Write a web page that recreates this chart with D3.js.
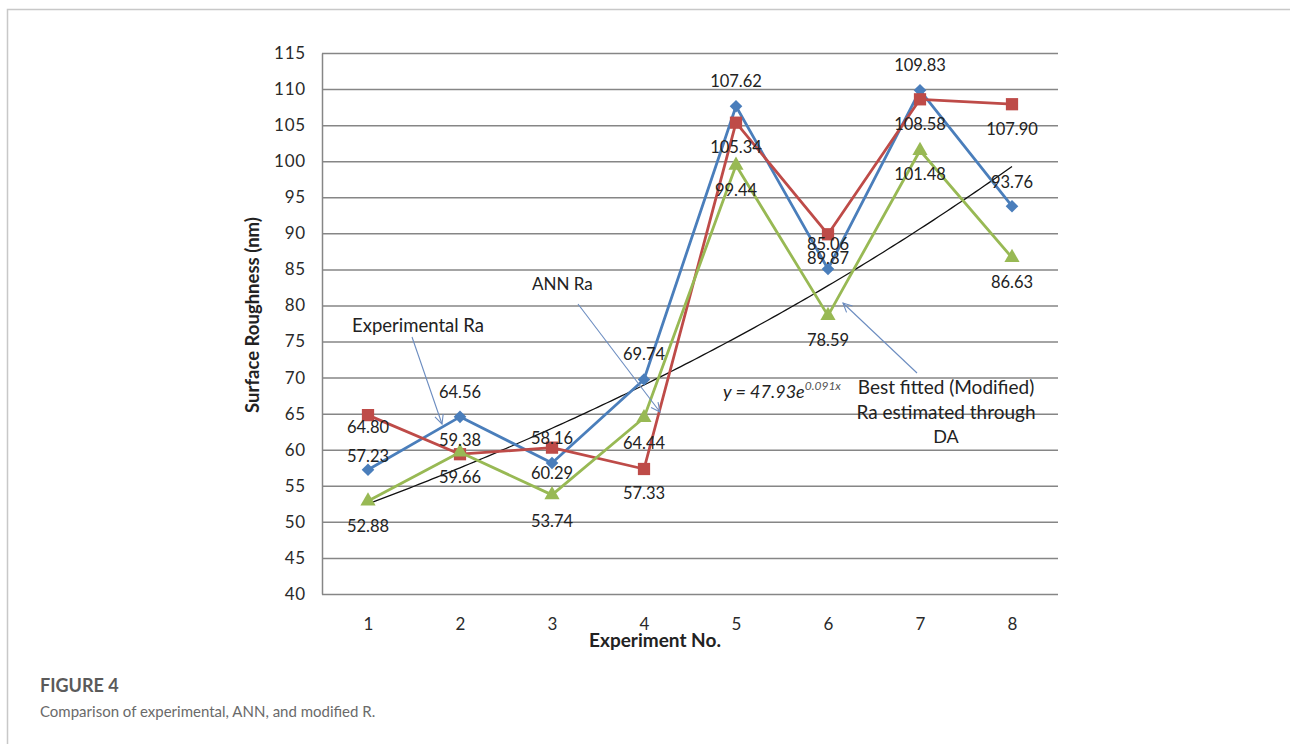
<!DOCTYPE html>
<html>
<head>
<meta charset="utf-8">
<script src="https://cdn.jsdelivr.net/npm/d3@7"></script>
<style>
  html, body { margin: 0; padding: 0; background: #fff; }
  svg { display: block; }
</style>
</head>
<body>
<svg id="chart" width="1290" height="744"></svg>
<script>
// ---- data ----
const experiments = [1, 2, 3, 4, 5, 6, 7, 8];
const experimentalRa = [57.23, 64.56, 58.16, 69.74, 107.62, 85.06, 109.83, 93.76];
const annRa = [64.80, 59.38, 60.29, 57.33, 105.34, 89.87, 108.58, 107.90];
const modifiedRa = [52.88, 59.66, 53.74, 64.44, 99.44, 78.59, 101.48, 86.63];
const yTicks = [40, 45, 50, 55, 60, 65, 70, 75, 80, 85, 90, 95, 100, 105, 110, 115];
const fitA = 47.93, fitB = 0.091;

// ---- layout / style (not data) ----
const labelDy = {
  exp: [-14, -25, -25, -25, -25, -25, -25, -24],
  ann: [12, -14, 25, 24, 24, 24, 25, 25],
  mod: [25, 25, 26, 25, 25, 24, 24, 24]
};
const colors = { exp: "#4A7EBB", ann: "#BE4B48", mod: "#98B954" };
const FONT = "Lato, 'Open Sans', sans-serif";

const svg = d3.select("#chart");

// frame
svg.append("path").attr("d", "M7.5,744 V9.5 H1290")
  .attr("fill", "none").attr("stroke", "#c8c8c8").attr("stroke-width", 1.5);

const pL = 322, pR = 1058, pT = 53, pB = 594;
const x = d3.scalePoint().domain(experiments).range([pL, pR]).padding(0.5);
const y = d3.scaleLinear().domain([40, 115]).range([pB, pT]);
const xLin = d3.scaleLinear().domain([1, 8]).range([x(1), x(8)]);

// gridlines
const grid = svg.append("g").attr("transform", `translate(${pL},0)`)
  .call(d3.axisLeft(y).tickValues(yTicks).tickSize(-(pR - pL)).tickFormat(""));
grid.select(".domain").remove();
grid.selectAll(".tick line").attr("stroke", "#868686").attr("stroke-width", 1.5);

// y axis labels
const yAx = svg.append("g").attr("transform", `translate(${pL},0)`)
  .call(d3.axisLeft(y).tickValues(yTicks).tickSize(0).tickPadding(16));
yAx.select(".domain").attr("stroke", "#868686").attr("stroke-width", 1.5);
yAx.selectAll("text").attr("font-family", FONT).attr("font-size", 17)
  .attr("fill", "#2a2a2a").attr("letter-spacing", 0.8);

// x axis labels
const xAx = svg.append("g").attr("transform", `translate(0,${pB})`)
  .call(d3.axisBottom(x).tickSize(0).tickPadding(24));
xAx.select(".domain").remove();
xAx.selectAll("text").attr("font-family", FONT).attr("font-size", 17).attr("fill", "#2a2a2a");

// axis titles
svg.append("text").attr("transform", "translate(259,315) rotate(-90)")
  .attr("text-anchor", "middle").attr("font-family", FONT).attr("font-weight", "bold")
  .attr("font-size", 18.5).attr("fill", "#222").text("Surface Roughness (nm)");
svg.append("text").attr("x", 655).attr("y", 647)
  .attr("text-anchor", "middle").attr("font-family", FONT).attr("font-weight", "bold")
  .attr("font-size", 19).attr("fill", "#222").text("Experiment No.");

// trendline
const fitPts = d3.range(1, 8.001, 0.05).map(v => [v, fitA * Math.exp(fitB * v)]);
svg.append("path").datum(fitPts)
  .attr("d", d3.line().x(d => xLin(d[0])).y(d => y(d[1])))
  .attr("fill", "none").attr("stroke", "#111").attr("stroke-width", 1.3);

// series
const series = [
  { key: "exp", values: experimentalRa, shape: d3.symbolSquare, size: 80, rot: 45 },
  { key: "ann", values: annRa, shape: d3.symbolSquare, size: 150, rot: 0 },
  { key: "mod", values: modifiedRa, shape: d3.symbolTriangle, size: 100, rot: 0 }
];
const line = d3.line().x((d, i) => x(experiments[i])).y(d => y(d));
series.forEach(s => {
  svg.append("path").datum(s.values).attr("d", line)
    .attr("fill", "none").attr("stroke", colors[s.key]).attr("stroke-width", 2.8)
    .attr("stroke-linejoin", "round");
});
series.forEach(s => {
  svg.append("g").selectAll("path").data(s.values).join("path")
    .attr("transform", (d, i) => `translate(${x(experiments[i])},${y(d)}) rotate(${s.rot})`)
    .attr("d", d3.symbol().type(s.shape).size(s.size))
    .attr("fill", colors[s.key]);
});
// data labels
series.forEach(s => {
  svg.append("g").selectAll("text").data(s.values).join("text")
    .attr("x", (d, i) => x(experiments[i]))
    .attr("y", (d, i) => y(d) + labelDy[s.key][i])
    .attr("dy", "0.36em")
    .attr("text-anchor", "middle").attr("font-family", FONT).attr("font-size", 16.5)
    .attr("fill", "#222").text(d => d.toFixed(2));
});

// annotations
const annColor = "#6b8cc0";
function arrow(x1, y1, x2, y2) {
  svg.append("line").attr("x1", x1).attr("y1", y1).attr("x2", x2).attr("y2", y2)
    .attr("stroke", annColor).attr("stroke-width", 1.1);
  const a = Math.atan2(y2 - y1, x2 - x1), L = 10, w = 0.45;
  const p1 = [x2 - L * Math.cos(a - w), y2 - L * Math.sin(a - w)];
  const p2 = [x2 - L * Math.cos(a + w), y2 - L * Math.sin(a + w)];
  svg.append("path").attr("d", `M${p1}L${x2},${y2}L${p2}`)
    .attr("fill", "none").attr("stroke", annColor).attr("stroke-width", 1.1);
}
function label(tx, ty, txt, anchor, fs) {
  svg.append("text").attr("x", tx).attr("y", ty).attr("text-anchor", anchor || "start")
    .attr("font-family", FONT).attr("font-size", fs || 17).attr("fill", "#222").text(txt);
}
label(352, 332, "Experimental Ra", "start", 18.5);
arrow(412, 337, 442, 424);
label(532, 290, "ANN Ra", "start", 17);
arrow(578, 304, 660, 412);
label(946, 394, "Best fitted (Modified)", "middle", 19);
label(946, 419, "Ra estimated through", "middle", 19);
label(946, 443, "DA", "middle", 18);
arrow(917, 373, 843, 303);

const eq = svg.append("text").attr("x", 723).attr("y", 398)
  .attr("font-family", FONT).attr("font-size", 18).attr("font-style", "italic").attr("fill", "#222");
eq.append("tspan").text("y = 47.93e");
eq.append("tspan").attr("dy", -8).attr("font-size", 12).attr("fill", "#555").text("0.091x");

// caption
svg.append("text").attr("x", 40).attr("y", 692).attr("font-family", FONT)
  .attr("font-size", 18).attr("font-weight", "bold").attr("fill", "#5a5a5a").text("FIGURE 4");
svg.append("text").attr("x", 40).attr("y", 717).attr("font-family", FONT)
  .attr("font-size", 15).attr("fill", "#6a6a6a").text("Comparison of experimental, ANN, and modified R.");
</script>
</body>
</html>
